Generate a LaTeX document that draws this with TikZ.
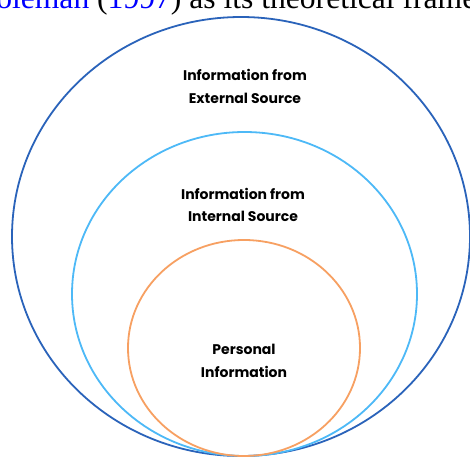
\documentclass[tikz,border=0pt]{standalone}
\usepackage{fontspec}
\setmainfont{Poppins}
\newfontfamily\timesfont{Liberation Serif}
\usetikzlibrary{shapes.geometric}
\definecolor{outerblue}{HTML}{2A63BA}
\definecolor{midblue}{HTML}{4DB9F7}
\definecolor{innerorange}{HTML}{F7A062}
\definecolor{linkblue}{HTML}{0000FF}
\tikzset{
  ring/.style={ellipse, draw, line width=1.8pt, inner sep=0pt, outer sep=0pt},
  lbl/.style={align=center, inner sep=0pt, font=\fontsize{14}{22.5}\selectfont\bfseries}
}
\begin{document}
\begin{tikzpicture}[x=1pt,y=-1pt]
\useasboundingbox (0,0) rectangle (470,457);
\clip (0,0) rectangle (470,457);
\fill[white] (0,0) rectangle (470,457);
\node[anchor=base west, inner sep=0pt, font=\timesfont\fontsize{31.6}{36}\selectfont] (cite) at (-25,9)
  {\textcolor{linkblue}{Coleman} (\textcolor{linkblue}{1997}) as its theoretical framework};
\node[ring, draw=outerblue, minimum width=458pt, minimum height=439pt] (outer) at (241,236.5) {};
\node[ring, draw=midblue, minimum width=345pt, minimum height=324pt] (mid) at (244.5,294) {};
\node[ring, draw=innerorange, minimum width=232pt, minimum height=216pt] (inner) at (244,348) {};
\node[lbl] (ext) at (245,86.5) {Information from\\External Source};
\node[lbl] (int) at (243,205) {Information from\\Internal Source};
\node[lbl] (pers) at (244,361) {Personal\\Information};
\end{tikzpicture}
\end{document}
